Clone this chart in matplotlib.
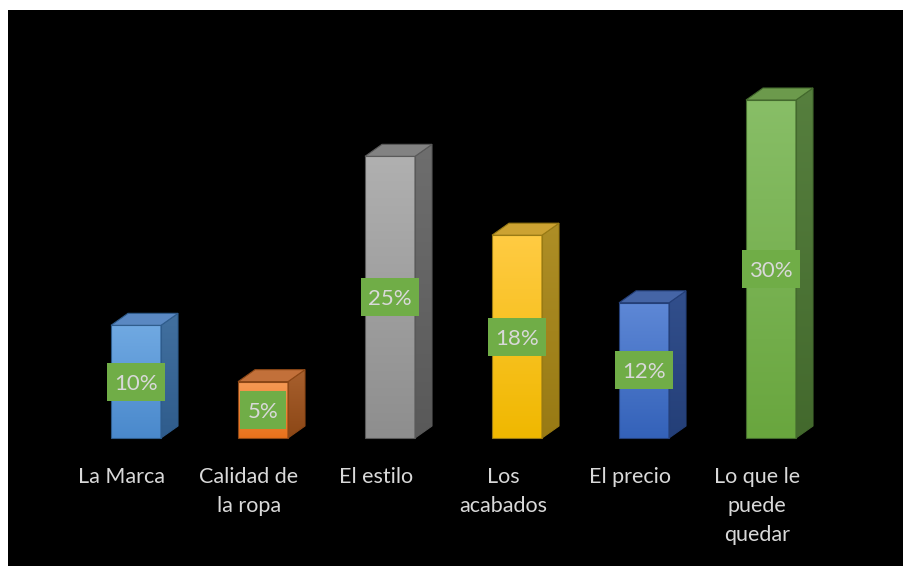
import matplotlib
matplotlib.use("Agg")
import matplotlib.pyplot as plt
import numpy as np
from matplotlib.patches import Polygon, Rectangle
from matplotlib.colors import LinearSegmentedColormap

plt.rcParams['font.family'] = ['Lato', 'DejaVu Sans']

categories = ["La Marca", "Calidad de\nla ropa", "El estilo", "Los\nacabados",
              "El precio", "Lo que le\npuede\nquedar"]
values = [10, 5, 25, 18, 12, 30]
value_labels = ["10%", "5%", "25%", "18%", "12%", "30%"]

# (front top, front bottom, side top, side bottom, top face)
palette = [
    ("#70A9E2", "#4A89CC", "#42709F", "#2F5C8C", "#5A88C2"),
    ("#F69A55", "#E9721C", "#A8602E", "#8C4716", "#C2703A"),
    ("#B0B0B0", "#8E8E8E", "#6E6E6E", "#595959", "#828282"),
    ("#FFCB43", "#F0B800", "#AE8E26", "#987A14", "#CCA232"),
    ("#5E88D6", "#3462B9", "#324F8C", "#243F78", "#4565A6"),
    ("#88BE67", "#69A63E", "#567F3E", "#43692D", "#6C9A4C"),
]

W, H = 904, 566
DPI = 100
fig = plt.figure(figsize=(W / DPI, H / DPI), dpi=DPI, facecolor="white")
fig.patches.append(Rectangle((8 / W, 0), 1 - 8 / W, 1 - 10 / H,
                             transform=fig.transFigure, facecolor="black",
                             edgecolor="none", zorder=-5))

ax = fig.add_axes([0, 0, 1, 1])
ax.set_facecolor("none")
ax.axis("off")

# pixel geometry of the plot frame
x_step = 127.0        # px between categories
x_first = 136.0       # px of first front-face centre
y_base = 438.0        # px of baseline
px_per_unit = 338.0 / 30.0

bw = 50.0 / x_step           # front width in category units
ddx = 17.0 / x_step          # depth offset, x
ddy = 12.0 / px_per_unit     # depth offset, y
lbl_h = 38.0 / px_per_unit   # value-label box height

grad = np.linspace(0, 1, 256).reshape(-1, 1)

for i, (v, cols) in enumerate(zip(values, palette)):
    ft, fb, st, sb, tp = cols
    x0, x1 = i - bw / 2, i + bw / 2
    # front face with vertical gradient
    front = Rectangle((x0, 0), bw, v, facecolor="none", edgecolor="none")
    ax.add_patch(front)
    cmap = LinearSegmentedColormap.from_list("f", [fb, ft])
    im = ax.imshow(grad, cmap=cmap, origin="lower", aspect="auto",
                   extent=(x0, x1, 0, v), zorder=3)
    im.set_clip_path(front)
    ax.add_patch(Rectangle((x0, 0), bw, v, facecolor="none",
                           edgecolor=sb, linewidth=0.8, zorder=4))
    # side face
    side_pts = [(x1, 0), (x1 + ddx, ddy), (x1 + ddx, v + ddy), (x1, v)]
    side = Polygon(side_pts, closed=True, facecolor="none", edgecolor="none")
    ax.add_patch(side)
    cmap_s = LinearSegmentedColormap.from_list("s", [sb, st])
    ims = ax.imshow(grad, cmap=cmap_s, origin="lower", aspect="auto",
                    extent=(x1, x1 + ddx, 0, v + ddy), zorder=2)
    ims.set_clip_path(side)
    ax.add_patch(Polygon(side_pts, closed=True, facecolor="none",
                         edgecolor=sb, linewidth=0.8, zorder=4))
    # top face
    ax.add_patch(Polygon([(x0, v), (x0 + ddx, v + ddy), (x1 + ddx, v + ddy), (x1, v)],
                         closed=True, facecolor=tp, edgecolor=sb,
                         linewidth=0.8, zorder=4))
    # value label on a green box sized to its text
    lbl_w = (22.0 + 12.0 * len(value_labels[i])) / x_step
    ax.add_patch(Rectangle((i - lbl_w / 2, v / 2 - lbl_h / 2), lbl_w, lbl_h,
                           facecolor="#70AD47", edgecolor="none", zorder=5))
    ax.text(i, v / 2, value_labels[i], ha="center", va="center_baseline",
            fontsize=16, color="#D9D9D9", zorder=6)
    # category label
    ax.annotate(categories[i], xy=(i, 0), xytext=(-14, -29),
                textcoords="offset pixels", ha="center", va="top",
                fontsize=15.5, color="#D9D9D9", linespacing=1.55, zorder=6)

ax.set_xlim(-x_first / x_step, (W - x_first) / x_step)
ax.set_ylim((y_base - H) / px_per_unit, y_base / px_per_unit)

fig.savefig("out.png", dpi=DPI, facecolor="white")
